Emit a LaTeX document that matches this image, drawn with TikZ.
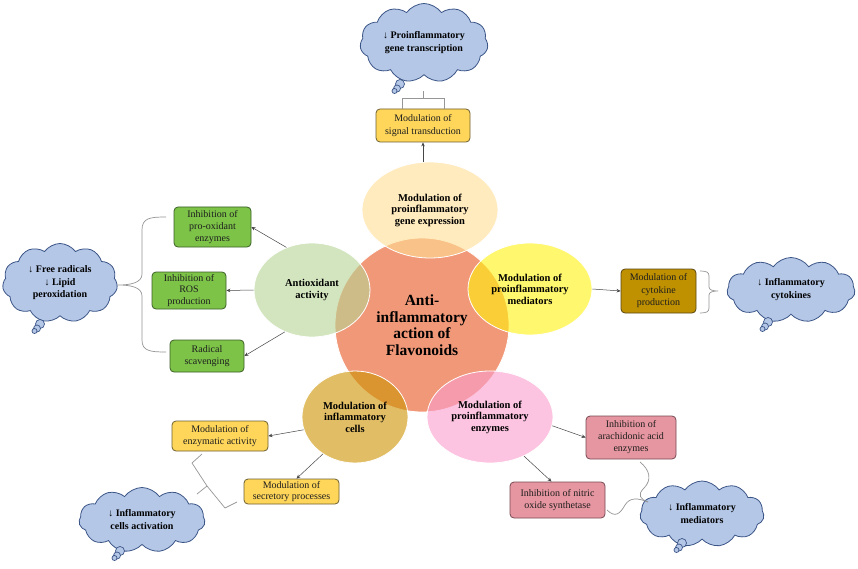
\documentclass[tikz,border=0pt]{standalone}
\usepackage{fontspec}
\setmainfont{Liberation Serif}
\usetikzlibrary{shapes.symbols,shapes.geometric,arrows.meta,calc}
\definecolor{orangeC}{RGB}{241,152,120}
\definecolor{peachC}{RGB}{255,223,147}
\definecolor{yellowC}{RGB}{255,242,13}
\definecolor{greenC}{RGB}{183,213,147}
\definecolor{khakiC}{RGB}{205,147,0}
\definecolor{pinkC}{RGB}{250,157,205}
\definecolor{boxGreen}{RGB}{124,195,72}
\definecolor{boxGreenB}{RGB}{60,95,40}
\definecolor{boxYellow}{RGB}{255,214,90}
\definecolor{boxYellowB}{RGB}{110,95,50}
\definecolor{boxBrown}{RGB}{191,144,0}
\definecolor{boxBrownB}{RGB}{90,70,20}
\definecolor{boxPink}{RGB}{230,150,160}
\definecolor{boxPinkB}{RGB}{120,75,85}
\definecolor{cloudF}{RGB}{180,199,231}
\definecolor{cloudB}{RGB}{60,85,135}
\definecolor{arrC}{RGB}{70,70,70}
\definecolor{braceC}{RGB}{150,150,150}
\definecolor{txtC}{RGB}{30,30,30}
\begin{document}
\begin{tikzpicture}[x=1pt,y=-1pt,
  petal/.style={ellipse, inner sep=0pt, draw=white, line width=0.8pt, fill opacity=0.6, text opacity=1, align=center, text=black, font=\bfseries\fontsize{10.5}{11.5}\selectfont},
  box/.style={rounded corners=4pt, draw, line width=0.8pt, align=center, inner sep=0pt, text=txtC, font=\fontsize{10}{12.5}\selectfont},
  gbox/.style={box, fill=boxGreen, draw=boxGreenB},
  ybox/.style={box, fill=boxYellow, draw=boxYellowB},
  pbox/.style={box, fill=boxPink, draw=boxPinkB},
  thought/.style={cloud, cloud puffs=11, cloud puff arc=110, cloud ignores aspect, draw=cloudB, fill=cloudF, line width=0.8pt, inner sep=0pt, align=center, font=\bfseries\fontsize{10}{13}\selectfont},
  bub/.style={circle, draw=cloudB, fill=cloudF, line width=0.7pt, inner sep=0pt},
  arr/.style={draw=arrC, line width=0.5pt, -{Stealth[length=4pt,width=3.5pt]}},
  brc/.style={draw=braceC, line width=0.7pt}
]
\useasboundingbox[fill=white] (0,0) rectangle (858,569);

% central circle
\node[circle, fill=orangeC, draw=white, line width=0.8pt, minimum size=174pt, inner sep=0pt, align=center,
  font=\bfseries\fontsize{15.5}{16.5}\selectfont] (core) at (422,325) {Anti-\\inflammatory\\action of\\Flavonoids};

% petals
\node[petal, fill=peachC, minimum width=136pt, minimum height=96pt] (topE) at (430,210) {Modulation of\\proinflammatory\\gene expression};
\node[petal, fill=yellowC, minimum width=124pt, minimum height=92pt] (rightE) at (530,289) {Modulation of\\proinflammatory\\mediators};
\node[petal, fill=greenC, minimum width=116pt, minimum height=94pt] (leftE) at (312,290) {Antioxidant\\activity};
\node[petal, fill=khakiC, minimum width=106pt, minimum height=92pt] (blE) at (355,417) {Modulation of\\inflammatory\\cells};
\node[petal, fill=pinkC, minimum width=126pt, minimum height=92pt] (brE) at (490,417) {Modulation of\\proinflammatory\\enzymes};

% boxes
\node[ybox, minimum width=94pt, minimum height=33pt] (sig) at (423,125.5) {Modulation of\\signal transduction};
\node[gbox, minimum width=77pt, minimum height=40pt, font=\fontsize{10}{12}\selectfont] (prox) at (212.5,227) {Inhibition of\\pro-oxidant\\enzymes};
\node[gbox, minimum width=74pt, minimum height=37pt, font=\fontsize{10}{11.5}\selectfont] (ros) at (189,290.5) {Inhibition of\\ROS\\production};
\node[gbox, minimum width=74pt, minimum height=32pt] (scav) at (207,356) {Radical\\scavenging};
\node[box, fill=boxBrown, draw=boxBrownB, minimum width=75pt, minimum height=44pt, font=\fontsize{10}{12.5}\selectfont] (cyto) at (658.5,291) {Modulation of\\cytokine\\production};
\node[ybox, minimum width=96pt, minimum height=30pt] (enz) at (220,436) {Modulation of\\enzymatic activity};
\node[ybox, minimum width=95pt, minimum height=25pt, font=\fontsize{10}{11.5}\selectfont] (sec) at (291.5,491.5) {Modulation of\\secretory processes};
\node[pbox, minimum width=90pt, minimum height=43pt, font=\fontsize{10}{12}\selectfont] (arach) at (631,437.5) {Inhibition of\\arachidonic acid\\enzymes};
\node[pbox, minimum width=95pt, minimum height=36pt] (nit) at (557.5,500) {Inhibition of nitric\\oxide synthetase};

% clouds
\node[thought, minimum width=128pt, minimum height=79pt] (cT) at (424,43) {↓ Proinflammatory\\gene transcription};
\node[thought, minimum width=115pt, minimum height=79pt, font=\bfseries\fontsize{10}{12.5}\selectfont] (cL) at (60,283) {↓ Free radicals\\↓ Lipid\\peroxidation};
\node[thought, minimum width=128pt, minimum height=65pt] (cR) at (791,290) {↓ Inflammatory\\cytokines};
\node[thought, minimum width=126pt, minimum height=65pt] (cBL) at (142,520) {↓ Inflammatory\\cells activation};
\node[thought, minimum width=124pt, minimum height=66pt] (cBR) at (702,514) {↓ Inflammatory\\mediators};

% thought bubbles
\node[bub, minimum size=9pt] (bT1) at (400,84) {};
\node[bub, minimum size=7pt] (bT2) at (397,88.5) {};
\node[bub, minimum size=5pt] (bT3) at (394.5,91) {};
\node[bub, minimum size=9pt] (bL1) at (40,324) {};
\node[bub, minimum size=7pt] (bL2) at (37,328.5) {};
\node[bub, minimum size=5pt] (bL3) at (34.5,331) {};
\node[bub, minimum size=9pt] (bR1) at (768,322) {};
\node[bub, minimum size=7pt] (bR2) at (765,326.5) {};
\node[bub, minimum size=5pt] (bR3) at (762.5,329) {};
\node[bub, minimum size=9pt] (bBL1) at (120,551) {};
\node[bub, minimum size=7pt] (bBL2) at (117,555.5) {};
\node[bub, minimum size=5pt] (bBL3) at (114.5,558) {};
\node[bub, minimum size=9pt] (bBR1) at (682,543) {};
\node[bub, minimum size=7pt] (bBR2) at (679,547.5) {};
\node[bub, minimum size=5pt] (bBR3) at (676.5,550) {};

% arrows
\draw[arr] (topE.north -| sig.south) -- (sig.south);
\draw[arr] (leftE.121) -- (prox.east);
\draw[arr] (leftE.west) -- (ros.east);
\draw[arr] (leftE.237) -- (scav.east);
\draw[arr] (rightE.east) -- (cyto.west);
\draw[arr] (blE.194) -- (enz.east);
\draw[arr] (blE.229) -- ($(sec.north)+(5,0)$);
\draw[arr] (brE.352) -- (arach.west);
\draw[arr] (brE.311) -- ($(nit.north)+(-6,0)$);

% braces
\coordinate (tbL) at ($(sig.north)+(-21,0)$);
\coordinate (tbR) at ($(sig.north)+(21,0)$);
\draw[brc] (tbL) -- ++(0,-10) -- ($(tbR)+(0,-10)$) -- (tbR);
\draw[brc] ($(sig.north)+(0,-10)$) -- ($(sig.north)+(0,-18)$);

\coordinate (lbT) at (166,217);
\coordinate (lbB) at (166,352);
\draw[brc] (lbT) .. controls (150,217) and (142,218) .. (142,230) -- (142,274)
  .. controls (142,283) and (130,285) .. (118,285)
  .. controls (130,285) and (142,287) .. (142,296) -- (142,340)
  .. controls (142,351) and (150,352) .. (lbB);

\coordinate (rbT) at (700,271);
\coordinate (rbB) at (700,313);
\draw[brc] (rbT) .. controls (706,271) and (709,272) .. (709,276) -- (709,287)
  .. controls (709,290) and (713,291) .. (718,291)
  .. controls (713,291) and (709,292) .. (709,295) -- (709,308)
  .. controls (709,312) and (706,313) .. (rbB);

\draw[brc] (202,454) -- (192,463) -- (207,486) -- (197,494);
\draw[brc] (207,486) -- (225,508) -- (237,502);

\draw[brc] (640,462) .. controls (650,470) and (652,480) .. (644,488)
  .. controls (637,495) and (640,499) .. (648,502);
\draw[brc] (607,510) .. controls (615,518) and (620,514) .. (625,505)
  .. controls (630,497) and (638,498) .. (648,502);
\end{tikzpicture}
\end{document}
